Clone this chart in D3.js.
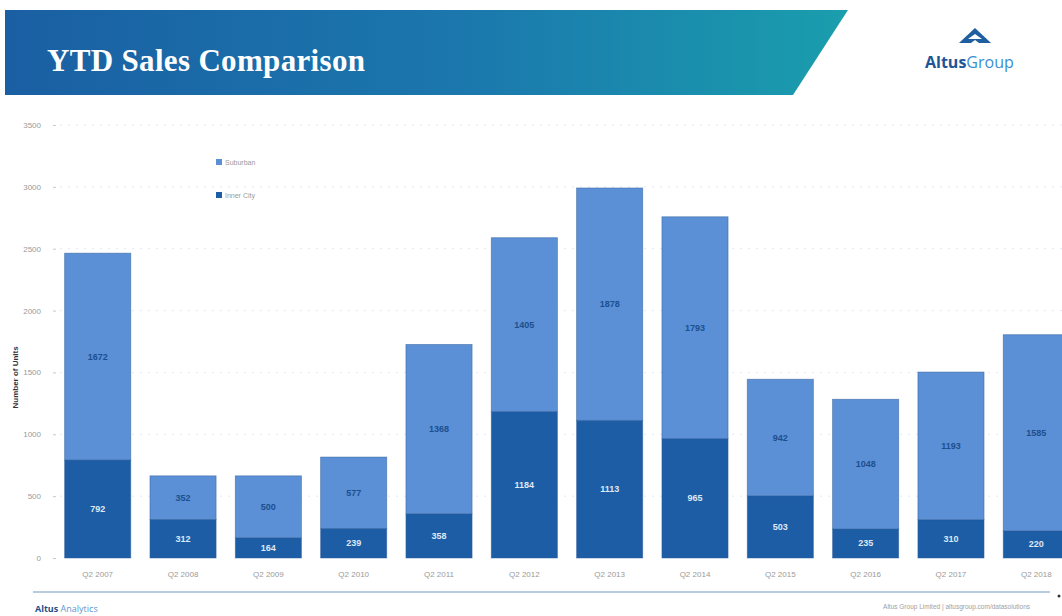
<!DOCTYPE html>
<html>
<head>
<meta charset="utf-8">
<script src="https://cdn.jsdelivr.net/npm/d3@7"></script>
<style>
  html, body { margin: 0; padding: 0; background: #ffffff; }
  svg { display: block; }
</style>
</head>
<body>
<div id="chart"></div>
<script>
// Year-to-date unit sales, Q2 of each year
const quarters = ["Q2 2007", "Q2 2008", "Q2 2009", "Q2 2010", "Q2 2011", "Q2 2012",
                  "Q2 2013", "Q2 2014", "Q2 2015", "Q2 2016", "Q2 2017", "Q2 2018"];
const innerCity = [792, 312, 164, 239, 358, 1184, 1113, 965, 503, 235, 310, 220];
const suburban  = [1672, 352, 500, 577, 1368, 1405, 1878, 1793, 942, 1048, 1193, 1585];
const yTicks = [0, 500, 1000, 1500, 2000, 2500, 3000, 3500];
const seriesNames = ["Suburban", "Inner City"];

const W = 1062, H = 616;
const svg = d3.select("#chart").append("svg")
  .attr("width", W).attr("height", H)
  .style("font-family", "'Liberation Sans', Arial, sans-serif");

// ---- Header banner ----
const defs = svg.append("defs");
const grad = defs.append("linearGradient").attr("id", "bannerGrad")
  .attr("x1", "0%").attr("x2", "100%").attr("y1", "0%").attr("y2", "0%");
grad.append("stop").attr("offset", "0%").attr("stop-color", "#1a5fa3");
grad.append("stop").attr("offset", "55%").attr("stop-color", "#1b78ad");
grad.append("stop").attr("offset", "100%").attr("stop-color", "#1a9ead");

svg.append("path")
  .attr("d", "M5,10 L848,10 L793,95 L5,95 Z")
  .attr("fill", "url(#bannerGrad)");

svg.append("text")
  .attr("x", 47).attr("y", 71)
  .attr("fill", "#ffffff")
  .style("font-family", "'Liberation Serif', 'Times New Roman', serif")
  .style("font-weight", "bold")
  .style("font-size", "31px")
  .attr("textLength", 318)
  .text("YTD Sales Comparison");

// Logo: stylised peak mark and wordmark
const logo = svg.append("g");
logo.append("path").attr("d", "M975,28 L991,43 L959,43 Z").attr("fill", "#1f5fa0");
logo.append("path").attr("d", "M968,39 L975,34 L982,39 Z").attr("fill", "#ffffff");
logo.append("path").attr("d", "M971,43 L975,40 L979,43 Z").attr("fill", "#ffffff");
const word = logo.append("text").attr("x", 925).attr("y", 68)
  .style("font-family", "'Open Sans', 'DejaVu Sans', sans-serif")
  .style("font-size", "16px");
word.append("tspan").attr("fill", "#1f5597").style("font-weight", "bold").text("Altus");
word.append("tspan").attr("fill", "#3a8fcf").text("Group");

// ---- Chart ----
const plotTop = 125, plotBottom = 558;
const x = d3.scaleBand().domain(quarters).range([55, 1079]).paddingInner(0.225).paddingOuter(0.113);
const y = d3.scaleLinear().domain([0, 3500]).range([plotBottom, plotTop]);

// faint dotted gridlines
svg.append("g").selectAll("line").data(yTicks.slice(1)).join("line")
  .attr("x1", 60).attr("x2", 1062)
  .attr("y1", d => y(d)).attr("y2", d => y(d))
  .attr("stroke", "#e4e8ee").attr("stroke-width", 1)
  .attr("stroke-dasharray", "2,6");

// y axis
const yAxis = svg.append("g").attr("transform", "translate(56,0)")
  .call(d3.axisLeft(y).tickValues(yTicks).tickFormat(d3.format("d")).tickSize(3).tickPadding(12));
yAxis.select(".domain").remove();
yAxis.selectAll(".tick line").attr("stroke", "#c9c9c9");
yAxis.selectAll(".tick text").attr("fill", "#9a9a9a").style("font-size", "8px");

svg.append("text")
  .attr("transform", `translate(18,${(y(500) + y(2500)) / 2 + 5}) rotate(-90)`)
  .attr("text-anchor", "middle")
  .attr("fill", "#333333")
  .style("font-size", "8px").style("font-weight", "bold")
  .text("Number of Units");

// x axis labels
const xAxis = svg.append("g").attr("transform", `translate(0,${plotBottom})`)
  .call(d3.axisBottom(x).tickSize(0).tickPadding(13));
xAxis.select(".domain").remove();
xAxis.selectAll(".tick text").attr("fill", "#9a9a9a").style("font-size", "8px");

// stacked bars
const rows = quarters.map((q, i) => ({ quarter: q, "Inner City": innerCity[i], "Suburban": suburban[i] }));
const stack = d3.stack().keys(["Inner City", "Suburban"])(rows);
const color = d3.scaleOrdinal().domain(seriesNames).range(["#5b8fd6", "#1c5da6"]);
const labelColor = { "Suburban": "#1c4f8e", "Inner City": "#dfe8f5" };

const layers = svg.append("g").selectAll("g").data(stack).join("g")
  .attr("fill", d => color(d.key));

layers.selectAll("rect").data(d => d).join("rect")
  .attr("x", d => x(d.data.quarter))
  .attr("width", x.bandwidth())
  .attr("y", d => y(d[1]))
  .attr("height", d => y(d[0]) - y(d[1]))
  .attr("stroke", "#2e5f99").attr("stroke-width", 0.8).attr("stroke-opacity", 0.6);

layers.each(function (layer) {
  d3.select(this).selectAll("text").data(layer).join("text")
    .attr("x", d => x(d.data.quarter) + x.bandwidth() / 2)
    .attr("y", d => (y(d[0]) + y(d[1])) / 2 + 3)
    .attr("text-anchor", "middle")
    .attr("fill", labelColor[layer.key])
    .style("font-size", "9px").style("font-weight", "bold")
    .text(d => d.data[layer.key]);
});

// legend
const legend = svg.append("g").selectAll("g").data(seriesNames).join("g")
  .attr("transform", (d, i) => `translate(216,${163 + i * 33})`);
legend.append("rect").attr("x", 0).attr("y", -4).attr("width", 6).attr("height", 6)
  .attr("fill", d => color(d));
legend.append("text").attr("x", 9).attr("y", 2)
  .attr("fill", "#9a9a9a").style("font-size", "7px").text(d => d);

// ---- Footer ----
svg.append("line").attr("x1", 33).attr("x2", 1050).attr("y1", 592).attr("y2", 592)
  .attr("stroke", "#9fb9d6").attr("stroke-width", 1.5);
svg.append("circle").attr("cx", 1059).attr("cy", 596).attr("r", 1.5).attr("fill", "#333");

const brand = svg.append("text").attr("x", 35).attr("y", 612)
  .style("font-family", "'Open Sans', 'DejaVu Sans', sans-serif").style("font-size", "9px");
brand.append("tspan").attr("fill", "#1f4f8c").style("font-weight", "bold").text("Altus");
brand.append("tspan").attr("fill", "#5b97cf").text(" Analytics");

svg.append("text").attr("x", 1030).attr("y", 609).attr("text-anchor", "end")
  .attr("fill", "#a0a0a0").style("font-size", "6.5px")
  .text("Altus Group Limited  |  altusgroup.com/datasolutions");
</script>
</body>
</html>
